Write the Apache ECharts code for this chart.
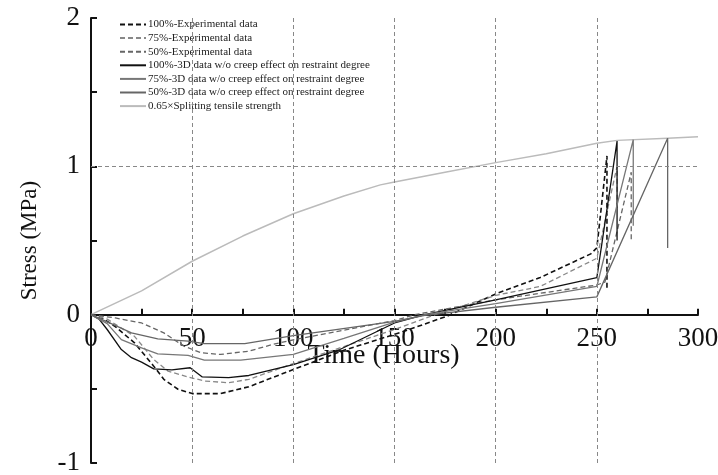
<!DOCTYPE html>
<html lang="en">
<head>
    <meta charset="UTF-8">
    <title>Stress vs time</title>
    <style>
        body { margin: 0; padding: 0; background: #fff; }
        #stressChart { width: 718px; height: 475px; }
    </style>
</head>
<body>
    <div id="stressChart"></div>
    <script src="https://cdn.jsdelivr.net/npm/echarts@6/dist/echarts.min.js"></script>
    <script>
        // [time (h), stress (MPa)]
        var exp100 = [[0, 0], [5, -0.02], [12, -0.08], [21.5, -0.19], [31, -0.347], [36, -0.436], [43, -0.503], [50, -0.532],
            [64, -0.532], [78, -0.486], [100, -0.37], [125, -0.24], [153, -0.12], [176, -0.01], [200, 0.14], [222, 0.25],
            [247, 0.41], [250, 0.45], [255, 1.07], [255, 0.17]];
        var exp75 = [[0, 0], [8, -0.03], [21.5, -0.146], [31, -0.302], [38, -0.38], [48, -0.42], [56, -0.447], [68, -0.459],
            [78, -0.436], [100, -0.33], [123, -0.224], [150, -0.1], [170, 0], [200, 0.13], [222, 0.19], [247, 0.36],
            [250, 0.38], [260, 1.0], [260, 0.7]];
        var exp50 = [[0, 0], [12, -0.022], [25, -0.056], [36, -0.123], [46, -0.213], [54.5, -0.257], [64, -0.268], [78, -0.246],
            [90, -0.2], [100, -0.17], [150, -0.04], [160, 0], [200, 0.1], [250, 0.2], [254, 0.22], [267, 0.96], [267, 0.5]];
        var sim100 = [[0, 0], [4, -0.03], [8, -0.1], [15, -0.235], [20, -0.29], [25, -0.32], [31, -0.365], [40, -0.372],
            [49, -0.358], [55, -0.42], [68, -0.425], [78, -0.41], [100, -0.336], [123, -0.235], [150, -0.056], [165, 0],
            [200, 0.1], [250, 0.25], [260, 1.17], [260, 0.5]];
        var sim75 = [[0, 0], [8, -0.06], [15, -0.168], [25, -0.224], [33, -0.264], [48, -0.275], [56, -0.307], [74, -0.307],
            [100, -0.268], [125, -0.16], [150, -0.05], [165, 0], [200, 0.075], [250, 0.19], [268, 1.18], [268, 0.6]];
        var sim50 = [[0, 0], [10, -0.06], [20, -0.123], [33, -0.163], [48, -0.179], [56, -0.195], [76, -0.195],
            [100, -0.141], [150, -0.045], [165, -0.005], [200, 0.05], [250, 0.12], [285, 1.19], [285, 0.45]];
        var strength = [[0, 0], [25, 0.16], [50, 0.36], [75, 0.53], [100, 0.68], [125, 0.8], [143, 0.875], [150, 0.895],
            [175, 0.96], [200, 1.025], [225, 1.085], [250, 1.155], [260, 1.175], [285, 1.19], [300, 1.2]];

        var names = ['100%-Experimental data', '75%-Experimental data', '50%-Experimental data',
            '100%-3D data w/o creep effect on restraint degree', '75%-3D data w/o creep effect on restraint degree',
            '50%-3D data w/o creep effect on restraint degree', '0.65\u00d7Splitting tensile strength'];
        var gridX = [50, 100, 150, 200, 250];
        var gridY = [1];

        var serif = "'Liberation Serif', 'DejaVu Serif', serif";

        var gridTop = 18, gridBottom = 12, plotH = 475 - gridTop - gridBottom;

        function line(name, data, color, width, type) {
            return {
                name: name,
                type: 'line',
                data: data,
                symbol: 'none',
                animation: false,
                lineStyle: { color: color, width: width, type: type },
                itemStyle: { color: color }
            };
        }

        var chart = echarts.init(document.getElementById('stressChart'));

        var series = [
            line(names[0], exp100, '#111', 1.6, [5, 3]),
            line(names[1], exp75, '#888', 1.3, [5, 3]),
            line(names[2], exp50, '#666', 1.3, [5, 3]),
            line(names[3], sim100, '#111', 1.3, 'solid'),
            line(names[4], sim75, '#777', 1.3, 'solid'),
            line(names[5], sim50, '#666', 1.3, 'solid'),
            line(names[6], strength, '#bbb', 1.5, 'solid')
        ];
        // dashed guide lines
        var guides = gridX.map(function (x) { return { xAxis: x }; })
            .concat(gridY.map(function (y) { return { yAxis: y }; }));
        series[6].markLine = {
            silent: true,
            symbol: 'none',
            animation: false,
            label: { show: false },
            lineStyle: { color: '#888', width: 1, type: [4, 3] },
            data: guides
        };
        series[6].z = 1;

        var option = {
            backgroundColor: '#fff',
            animation: false,
            grid: { left: 91, right: 20, top: gridTop, bottom: gridBottom, outerBoundsMode: 'none' },
            legend: {
                orient: 'vertical',
                left: 116,
                top: 16,
                padding: [3, 6, 4, 3],
                backgroundColor: '#fff',
                itemWidth: 26,
                itemHeight: 10,
                itemGap: 2.6,
                itemStyle: { opacity: 0 },
                textStyle: { fontFamily: serif, fontSize: 11, color: '#222', padding: [0, 0, 0, -3] },
                data: names
            },
            xAxis: {
                type: 'value',
                min: 0,
                max: 300,
                interval: 25,
                // the axis sits on stress = 0, one third of the plot height up from the bottom
                offset: -plotH / 3,
                name: 'Time (Hours)',
                nameLocation: 'middle',
                nameGap: 27,
                nameMoveOverlap: false,
                nameTextStyle: { fontFamily: serif, fontSize: 28, color: '#111', padding: [0, 22, 0, 0] },
                axisLine: { onZero: false, lineStyle: { color: '#111', width: 2 } },
                axisTick: { inside: true, length: 6, lineStyle: { color: '#111', width: 2 } },
                axisLabel: {
                    margin: 11,
                    fontFamily: serif,
                    fontSize: 27,
                    color: '#111',
                    formatter: function (v) { return v % 50 === 0 ? v : ''; }
                },
                splitLine: { show: false }
            },
            yAxis: {
                type: 'value',
                min: -1,
                max: 2,
                interval: 0.5,
                name: 'Stress (MPa)',
                nameLocation: 'middle',
                nameGap: 50,
                nameMoveOverlap: false,
                nameTextStyle: { fontFamily: serif, fontSize: 23, color: '#111' },
                axisLine: { show: true, onZero: false, lineStyle: { color: '#111', width: 2 } },
                axisTick: { inside: true, length: 6, lineStyle: { color: '#111', width: 2 } },
                axisLabel: {
                    margin: 11,
                    fontFamily: serif,
                    fontSize: 27,
                    color: '#111',
                    formatter: function (v) { return v % 1 === 0 ? v : ''; }
                },
                splitLine: { show: false }
            },
            series: series
        };

        chart.setOption(option);
    </script>
</body>
</html>
